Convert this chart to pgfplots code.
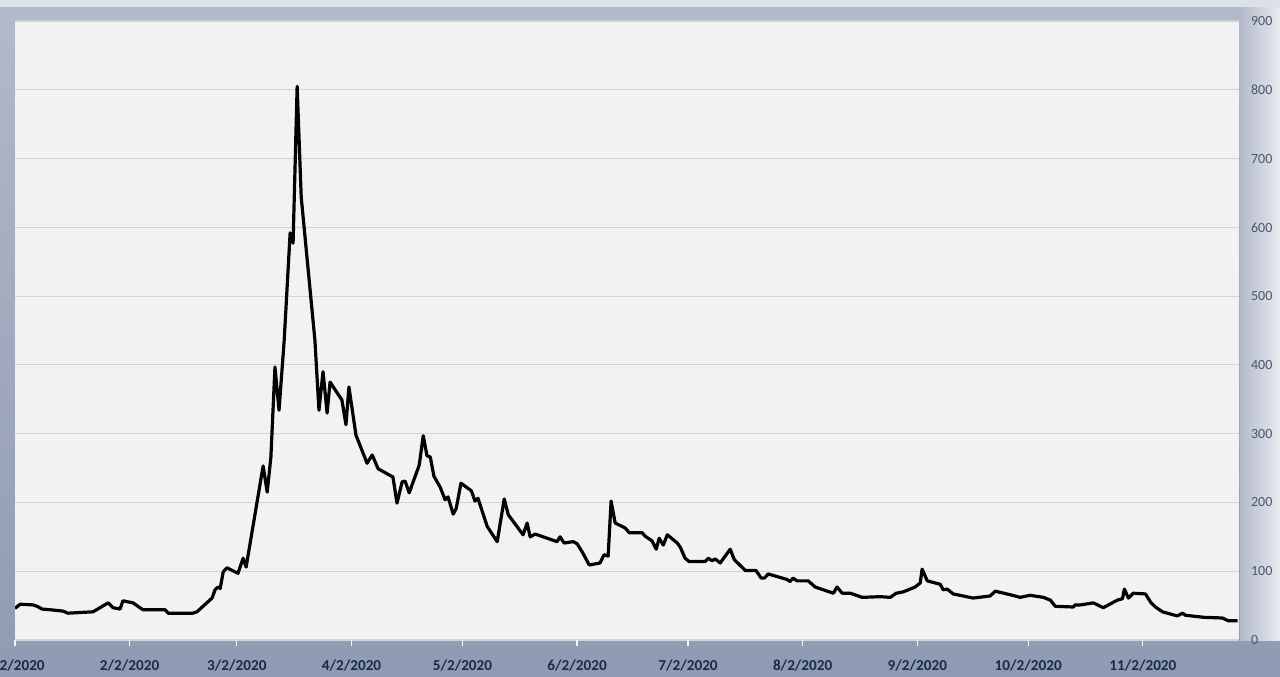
\documentclass[border=0pt]{standalone}
\usepackage{fontspec}
\setmainfont{Carlito}
\usepackage{pgfplots}
\pgfplotsset{compat=1.18}
\definecolor{plotbg}{HTML}{F2F2F2}
\definecolor{bgtop}{HTML}{B2BACA}
\definecolor{bgbot}{HTML}{8E9BB3}
\definecolor{strip}{HTML}{DCE0E8}
\definecolor{gridc}{HTML}{D2D2D2}
\definecolor{ylab}{HTML}{4E5666}
\definecolor{xlab}{HTML}{1C2A44}
\begin{document}
\begin{tikzpicture}
\useasboundingbox (0,0) rectangle (640pt,338pt);
\fill[top color=bgtop, bottom color=bgbot] (0,0) rectangle (640pt,338pt);
\fill[right color=white!70!bgtop, left color=bgtop] (620pt,18pt) rectangle (640pt,334.5pt);
\fill[strip] (0,334.5pt) rectangle (640pt,338pt);
\begin{axis}[
  at={(7.5pt,18pt)}, anchor=south west,
  scale only axis, width=612pt, height=309.5pt,
  xmin=0, xmax=331, ymin=0, ymax=900,
  axis background/.style={fill=plotbg},
  axis line style={draw=none},
  ymajorgrids, grid style={gridc, line width=0.6pt},
  ytick={0,100,...,900},
  yticklabel pos=right,
  ytick style={draw=none},
  xtick={0,31,60,91,121,152,182,213,244,274,305},
  xticklabels={1/2/2020,2/2/2020,3/2/2020,4/2/2020,5/2/2020,6/2/2020,7/2/2020,8/2/2020,9/2/2020,10/2/2020,11/2/2020},
  xtick pos=bottom,
  tick align=outside,
  major tick length=3pt,
  xtick style={white!85!bgtop, line width=0.6pt},
  /pgf/number format/assume math mode=true,
  yticklabel style={font=\fontsize{7}{8}\selectfont, text=ylab, xshift=-0.5pt},
  xticklabel style={font=\fontsize{7.6}{9}\selectfont\bfseries, text=xlab, yshift=-3.5pt},
]
\addplot[black, line width=1.6pt, line join=round, mark=none] coordinates {
(0,46) (1.4,52) (4.9,51) (6.0,49) (7.3,45) (9.5,44) (13.0,42) (14.3,39) (21.1,41) (23.0,47)
(25.2,54) (26.5,47) (28.4,45) (29.2,57) (31.9,54) (34.6,44) (40.6,44) (41.4,39) (48.1,39) (49.2,41)
(53.3,61) (54.1,73) (54.9,77) (55.5,75) (56.3,99) (57.3,105) (60.3,97) (61.7,119) (62.5,106)
(67.1,253) (68.2,215) (69.2,266) (70.3,397) (71.4,334) (72.8,436) (74.4,592) (75.2,577) (76.3,805)
(77.4,644) (81.1,436) (82.2,334) (83.3,390) (84.4,330) (85.2,375) (88.4,349) (89.5,313) (90.3,368)
(92.2,298) (95.2,257) (96.6,269) (98.2,249) (102.2,237) (103.3,199) (104.7,230) (105.5,231) (106.6,214)
(109.3,254) (110.4,297) (111.4,268) (112.3,266) (113.3,238) (115.0,222) (116.3,204) (117.1,208)
(118.5,183) (119.3,191) (120.6,228) (123.4,217) (124.4,202) (125.2,206) (127.7,165) (130.4,143)
(132.3,205) (133.4,182) (137.4,153) (138.5,170) (139.3,150) (140.7,154) (145.5,145) (146.6,143)
(147.4,150) (148.5,141) (150.9,143) (152.0,140) (153.4,128) (155.3,109) (158.2,112) (159.3,124)
(160.4,122) (161.2,202) (162.3,170) (165.0,163) (166.1,156) (167.7,156) (169.6,156) (170.4,151)
(172.3,144) (173.4,132) (174.2,148) (175.3,138) (176.4,153) (179.1,141) (179.9,135) (181.2,119)
(182.3,114) (186.6,114) (187.5,119) (188.5,115) (189.3,118) (190.7,112) (193.4,132) (194.5,117)
(197.5,101) (200.4,101) (201.8,90) (202.6,90) (203.7,96) (208.8,88) (209.6,85) (210.4,90) (211.5,86)
(214.5,86) (216.4,77) (221.3,68) (222.3,77) (223.7,68) (225.9,68) (229.1,62) (234.0,63) (236.7,62)
(238.3,68) (240.2,70) (243.4,77) (244.8,83) (245.3,103) (246.7,86) (250.2,81) (251.0,73) (252.1,74)
(253.7,67) (259.1,61) (263.7,64) (265.1,71) (270.5,64) (271.8,62) (274.5,65) (278.1,62) (280.0,58)
(281.3,49) (286.2,48) (286.7,51) (288.1,51) (291.6,54) (294.3,47) (298.1,58) (299.5,60) (300.0,74)
(301.1,61) (302.4,68) (305.7,67) (307.1,55) (308.4,48) (310.3,41) (314.3,35) (315.7,39) (316.5,36)
(321.4,33) (326.5,32) (328.1,28) (330.6,28)
};
\end{axis}
\end{tikzpicture}
\end{document}
